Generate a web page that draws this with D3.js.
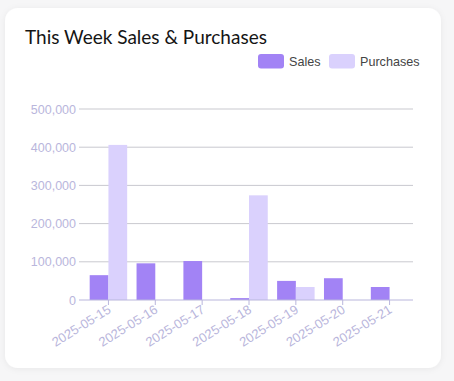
<!DOCTYPE html>
<html><head><meta charset="utf-8">
<script src="https://cdn.jsdelivr.net/npm/d3@7"></script>
<style>
html,body{margin:0;padding:0;background:#f6f6f7;}
svg{display:block;}
</style></head>
<body>
<svg id="c" width="454" height="381"></svg>
<script>
const categories = ["2025-05-15","2025-05-16","2025-05-17","2025-05-18","2025-05-19","2025-05-20","2025-05-21"];
const sales = [65000, 96000, 102000, 5000, 50000, 57000, 34000];
const purchases = [406000, 0, 0, 274000, 34000, 0, 0];
const yTicks = [0, 100000, 200000, 300000, 400000, 500000];
const seriesNames = ["Sales", "Purchases"];
const colors = ["#a283f5", "#dad1fd"];

(function(){
const svg = d3.select("#c");
const defs = svg.append("defs");
const f = defs.append("filter").attr("id","sh").attr("x","-10%").attr("y","-10%").attr("width","120%").attr("height","120%");
f.append("feDropShadow").attr("dx",0).attr("dy",1).attr("stdDeviation",3).attr("flood-color","#000").attr("flood-opacity",0.06);

svg.append("rect").attr("x",5).attr("y",8).attr("width",436).attr("height",360)
  .attr("rx",13).attr("fill","#fff").attr("filter","url(#sh)");

svg.append("text").attr("x",25).attr("y",44).text("This Week Sales & Purchases")
  .attr("font-family","Lato, 'Open Sans', sans-serif").attr("font-size",19).attr("fill","#151515");

const legX = [258, 329];
seriesNames.forEach((n,i)=>{
  svg.append("rect").attr("x",legX[i]).attr("y",54).attr("width",26).attr("height",14.5).attr("rx",3)
    .attr("fill",colors[i]);
  svg.append("text").attr("x",legX[i]+31).attr("y",66).text(n)
    .attr("font-family","'Liberation Sans', Arial, sans-serif").attr("font-size",12.6).attr("fill","#444");
});

const pl = 85, pr = 413, pt = 109, pb = 300;
const x0 = d3.scaleBand().domain(categories).range([pl, pr]).paddingInner(0).paddingOuter(0);
const x1 = d3.scaleBand().domain(seriesNames).range([0, x0.bandwidth()*0.8]).padding(0);
const y = d3.scaleLinear().domain([0, 500000]).range([pb, pt]);

svg.append("g").selectAll("line").data(yTicks.filter(t=>t>0)).join("line")
  .attr("x1",pl-6).attr("x2",pr).attr("y1",d=>y(d)).attr("y2",d=>y(d))
  .attr("stroke","#c9c9cf").attr("stroke-width",1);

svg.append("g").selectAll("text").data(yTicks).join("text")
  .attr("x",76).attr("y",d=>y(d)+4.5).attr("text-anchor","end").text(d=>d3.format(",")(d))
  .attr("font-family","'Liberation Sans', Arial, sans-serif").attr("font-size",12.5).attr("fill","#b9b6dc");

const groups = svg.append("g").selectAll("g").data(categories).join("g")
  .attr("transform",d=>`translate(${x0(d)+x0.bandwidth()*0.1},0)`);
groups.selectAll("rect").data((d,i)=>[{s:"Sales",v:sales[i]},{s:"Purchases",v:purchases[i]}].filter(e=>e.v>0)).join("rect")
  .attr("x",d=>x1(d.s)).attr("width",x1.bandwidth())
  .attr("y",d=>y(d.v)).attr("height",d=>y(0)-y(d.v))
  .attr("fill",d=>colors[seriesNames.indexOf(d.s)]);

svg.append("line").attr("x1",pl-6).attr("x2",pr).attr("y1",pb).attr("y2",pb)
  .attr("stroke","#b9b6dc").attr("stroke-width",1);
svg.append("g").selectAll("line").data(categories).join("line")
  .attr("x1",d=>x0(d)+x0.bandwidth()/2).attr("x2",d=>x0(d)+x0.bandwidth()/2)
  .attr("y1",pb).attr("y2",pb+5).attr("stroke","#b9b6dc");
svg.append("g").selectAll("text").data(categories).join("text")
  .attr("transform",d=>`translate(${x0(d)+x0.bandwidth()/2+1},${pb+8}) rotate(-32)`)
  .attr("text-anchor","end").attr("dy","0.35em").text(d=>d)
  .attr("font-family","'Liberation Sans', Arial, sans-serif").attr("font-size",13).attr("fill","#b9b6dc");
})();
</script>
</body></html>
